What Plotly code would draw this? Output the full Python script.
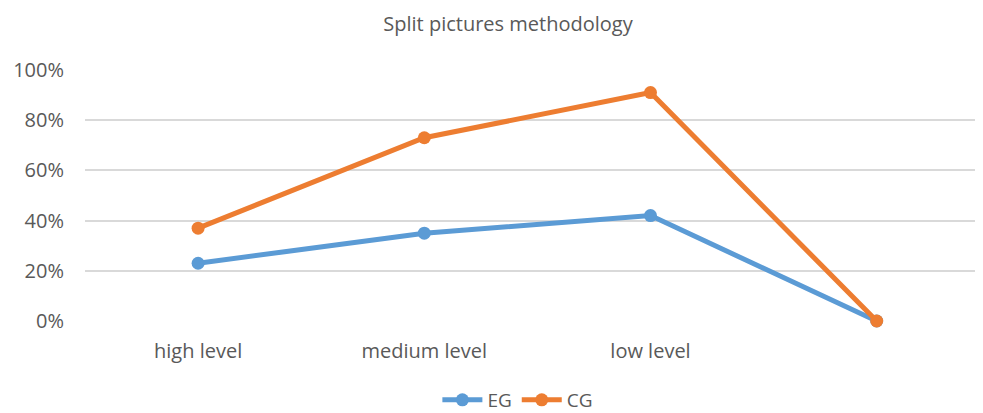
import plotly.graph_objects as go

categories = ["high level", "medium level", "low level", " "]
eg_values = [0.23, 0.35, 0.42, 0.0]
cg_values = [0.37, 0.73, 0.91, 0.0]
y_ticks = [0, 0.2, 0.4, 0.6, 0.8, 1.0]
y_tick_labels = ["0%", "20%", "40%", "60%", "80%", "100%"]

font_family = "Open Sans, Liberation Sans, sans-serif"
text_color = "#595959"

# page body has an 8px default margin; figure is sized to fit the window
W, H = 975, 405

fig = go.Figure()
fig.add_trace(go.Scatter(
    x=categories, y=eg_values, name="EG", mode="lines+markers",
    line=dict(color="#5B9BD5", width=5), marker=dict(size=13, color="#5B9BD5"),
    cliponaxis=False,
))
fig.add_trace(go.Scatter(
    x=categories, y=cg_values, name="CG", mode="lines+markers",
    line=dict(color="#ED7D31", width=5), marker=dict(size=13, color="#ED7D31"),
    cliponaxis=False,
))

fig.update_layout(
    width=W, height=H,
    margin=dict(l=77, r=0, t=62, b=92, autoexpand=False),
    paper_bgcolor="white", plot_bgcolor="white",
    title=dict(text="Split pictures methodology", x=500 / W, xanchor="center",
               y=1 - 16 / H, yanchor="middle",
               font=dict(family=font_family, size=20, color=text_color)),
    font=dict(family=font_family, color=text_color),
    showlegend=True,
    legend=dict(orientation="h", x=470 / W, xanchor="center",
                yref="container", y=1 - 392 / H, yanchor="middle",
                font=dict(size=19, color=text_color), itemwidth=40,
                bgcolor="rgba(0,0,0,0)"),
    xaxis=dict(type="category", range=[-0.5, 3.47], showgrid=False, zeroline=False,
               showline=False, ticks="", tickfont=dict(size=20, color=text_color),
               ticklabelstandoff=16),
    yaxis=dict(range=[0, 1], tickvals=y_ticks, ticktext=y_tick_labels,
               showgrid=True, gridcolor="#D9D9D9", gridwidth=1.5, zeroline=False,
               showline=False, ticks="", tickfont=dict(size=20, color=text_color),
               ticklabelstandoff=20),
)

fig.write_html("out.html")
